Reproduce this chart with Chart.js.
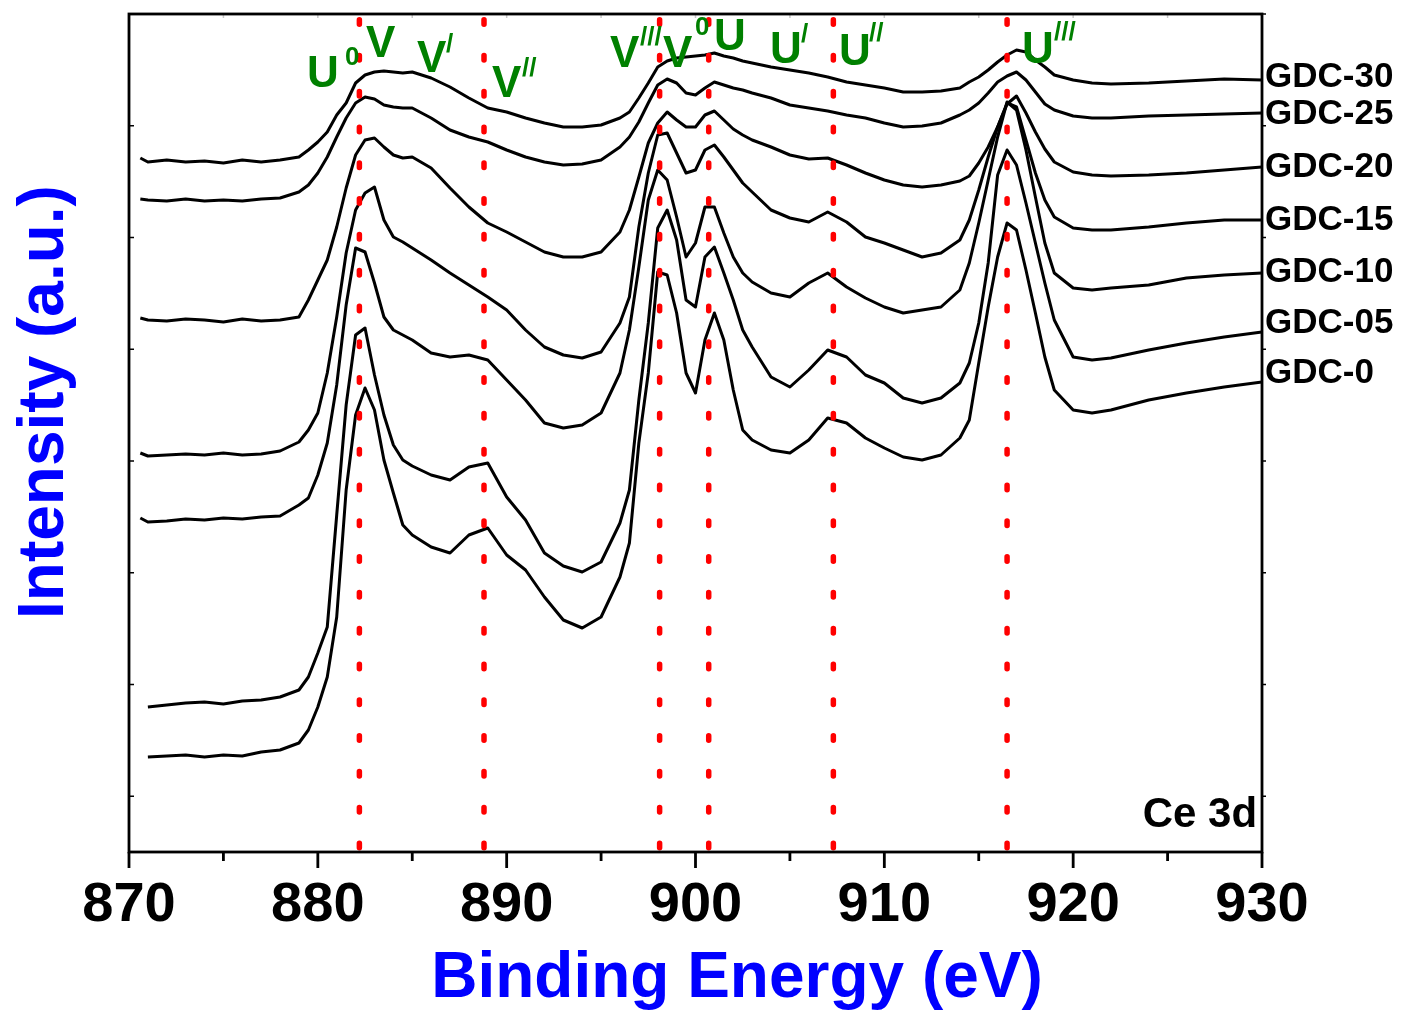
<!DOCTYPE html>
<html>
<head>
<meta charset="utf-8">
<script src="https://cdn.jsdelivr.net/npm/chart.js@4.4.0/dist/chart.umd.min.js"></script>
<style>
  html, body { margin: 0; padding: 0; background: #fff; }
  #wrap { width: 1407px; height: 1012px; }
</style>
</head>
<body>
<div id="wrap"><canvas id="chart" width="1407" height="1012"></canvas></div>
<script>
// Binding energy grid (eV), shared by all spectra
const energy = [870.6, 871, 872, 873, 874, 875, 876, 877, 878, 879, 879.5, 880, 880.5, 881, 881.5, 882, 882.5, 883, 883.5, 884, 884.5, 885,
  886, 887, 888, 889, 890, 891, 892, 893, 894, 895, 896, 896.5, 897, 897.5, 898, 898.5, 899, 899.5, 900, 900.5, 901, 901.5, 902, 902.5, 903,
  904, 905, 906, 907, 908, 909, 910, 911, 912, 913, 914, 914.5, 915, 915.5, 916, 916.5, 917, 917.5, 918, 918.5, 919, 920, 921, 922, 924, 926, 928, 930];

// Intensity (a.u., stacked with offsets as in the figure)
const gdc30 = [694, 690, 692, 690, 691, 689, 692, 690, 692, 695, 702, 710, 720, 737, 749, 769, 777, 780, 781, 780, 779, 780, 774, 765, 754, 744, 740, 734, 729, 725,
  725, 727, 734, 740, 754, 769, 785, 791, 794, 795, 796, 797, 799, 796, 794, 791, 789, 785, 782, 779, 775, 770, 767, 764, 760, 760, 761, 764, 770, 775,
  782, 790, 797, 802, 800, 792, 785, 777, 772, 769, 768, 769, 771, 773, 772];
const gdc25 = [653, 652, 651, 653, 651, 652, 651, 653, 654, 660, 667, 679, 695, 715, 734, 749, 755, 753, 747, 745, 744, 744, 734, 722, 715, 710, 702, 695, 690, 687,
  688, 692, 705, 715, 730, 749, 767, 773, 769, 759, 757, 764, 770, 767, 764, 762, 759, 754, 747, 744, 741, 737, 734, 729, 725, 726, 729, 737, 742, 749,
  759, 770, 776, 780, 772, 760, 748, 742, 736, 734, 734, 736, 737, 738, 739];
const gdc20 = [534, 532, 531, 533, 532, 530, 533, 531, 532, 535, 552, 572, 592, 625, 664, 697, 712, 714, 705, 697, 694, 695, 684, 664, 645, 629, 620, 610, 600, 595,
  595, 600, 620, 642, 675, 709, 729, 740, 732, 725, 725, 737, 741, 732, 723, 717, 712, 705, 697, 693, 694, 687, 679, 672, 667, 665, 667, 671, 676, 689,
  705, 725, 748, 756, 739, 720, 703, 690, 680, 677, 676, 677, 679, 682, 685];
const gdc15 = [399, 396, 397, 398, 397, 399, 397, 398, 401, 410, 422, 439, 479, 535, 599, 642, 659, 665, 632, 615, 610, 604, 592, 579, 567, 555, 542, 522, 505, 497,
  494, 500, 529, 555, 625, 679, 717, 719, 699, 679, 682, 702, 707, 695, 682, 669, 660, 642, 634, 630, 640, 630, 615, 609, 602, 595, 599, 612, 632, 662,
  695, 725, 749, 745, 712, 679, 652, 635, 624, 622, 622, 625, 629, 632, 632];
const gdc10 = [334, 330, 331, 333, 332, 334, 333, 335, 336, 347, 354, 377, 409, 467, 547, 604, 600, 569, 535, 522, 517, 512, 499, 495, 497, 492, 472, 452, 429, 424,
  427, 439, 479, 522, 585, 652, 682, 672, 635, 595, 609, 645, 645, 619, 595, 579, 570, 559, 555, 569, 579, 565, 554, 545, 539, 542, 545, 562, 589, 629,
  672, 715, 750, 742, 702, 655, 609, 579, 564, 562, 564, 567, 574, 577, 579];
const gdc05 = [null, 145, 147, 149, 150, 148, 151, 152, 155, 162, 175, 199, 225, 337, 447, 517, 524, 477, 437, 407, 392, 386, 377, 372, 385, 389, 355, 332, 299, 286,
  280, 290, 329, 362, 452, 529, 624, 642, 612, 552, 545, 595, 605, 579, 552, 522, 505, 475, 465, 482, 502, 495, 477, 469, 454, 449, 454, 469, 489, 529,
  589, 677, 702, 687, 649, 609, 569, 532, 495, 492, 494, 502, 509, 515, 520];
const gdc0 = [null, 95, 96, 97, 95, 97, 96, 100, 102, 109, 122, 145, 175, 235, 362, 437, 464, 442, 392, 359, 327, 317, 305, 299, 317, 324, 297, 282, 255, 232,
  224, 235, 275, 309, 409, 479, 580, 577, 539, 479, 459, 512, 539, 512, 462, 422, 412, 402, 399, 412, 434, 429, 414, 404, 395, 392, 397, 414, 432, 489,
  545, 595, 629, 622, 582, 539, 495, 462, 442, 439, 442, 452, 459, 465, 470];

const sampleNames = ['GDC-30', 'GDC-25', 'GDC-20', 'GDC-15', 'GDC-10', 'GDC-05', 'GDC-0'];
const spectra = [gdc30, gdc25, gdc20, gdc15, gdc10, gdc05, gdc0];

// Peak positions marked by the red dotted lines (eV)
const peakLines = [882.2, 888.8, 898.1, 900.7, 907.3, 916.5];

// Axis ticks
const xMin = 870, xMax = 930, xStep = 5;
const yMin = 0, yMax = 838;
const yTickValues = [55.75, 167.5, 279.25, 391, 502.75, 614.5, 726.25, 838];

const FONT = '"Liberation Sans", Arial, Helvetica, sans-serif';
const bold = size => `bold ${size}px ${FONT}`;

// peak labels: letter + superscript mark, anchored in data units
const peakLabels = [
  { t: 'U', e: 879.43, v: 765, s: '0', se: 881.44, sv: 787 },
  { t: 'V', e: 882.55, v: 795 },
  { t: 'V', e: 885.25, v: 780, s: '/', se: 886.79, sv: 800 },
  { t: 'V', e: 889.22, v: 755, s: '//', se: 890.81, sv: 776 },
  { t: 'V', e: 895.47, v: 785, s: '///', se: 897.06, sv: 807 },
  { t: 'V', e: 898.28, v: 785, s: '0', se: 899.97, sv: 817 },
  { t: 'U', e: 900.98, v: 802 },
  { t: 'U', e: 903.95, v: 789, s: '/', se: 905.59, sv: 810 },
  { t: 'U', e: 907.6, v: 787, s: '//', se: 909.19, sv: 811 },
  { t: 'U', e: 917.29, v: 789, s: '///', se: 918.99, sv: 812 }
];
const nameLevels = [765, 728, 675, 622, 570, 519, 469];

// Frame and tick marks
const framePlugin = {
  id: 'frame',
  afterDraw(chart) {
    const { ctx, chartArea: a, scales: { x, y } } = chart;
    ctx.save();
    ctx.strokeStyle = '#000';
    ctx.lineWidth = 2.8;
    ctx.lineCap = 'butt';
    x.ticks.forEach(t => {
      const px = x.getPixelForValue(t.value);
      const major = t.value % 10 === 0;
      ctx.beginPath();
      ctx.moveTo(px, a.bottom);
      ctx.lineTo(px, a.bottom + (major ? 16 : 9));
      ctx.stroke();
    });
    ctx.lineWidth = 1.5;
    y.ticks.forEach(t => {
      const py = y.getPixelForValue(t.value);
      ctx.beginPath();
      ctx.moveTo(a.left, py);
      ctx.lineTo(a.left + 5, py);
      ctx.moveTo(a.right, py);
      ctx.lineTo(a.right + 4, py);
      ctx.stroke();
    });
    ctx.strokeStyle = '#c8c8c8';
    x.ticks.forEach(t => {
      const px = x.getPixelForValue(t.value);
      ctx.beginPath();
      ctx.moveTo(px, a.top);
      ctx.lineTo(px, a.top + 4);
      ctx.stroke();
    });
    ctx.strokeStyle = '#000';
    ctx.lineWidth = 2.8;
    ctx.strokeRect(a.left, a.top, a.right - a.left, a.bottom - a.top);
    ctx.restore();
  }
};

// Peak labels, sample names and axis titles
const textPlugin = {
  id: 'texts',
  afterDraw(chart) {
    const { ctx, chartArea: a, scales: { x, y } } = chart;
    ctx.save();
    ctx.textAlign = 'left';
    ctx.textBaseline = 'alphabetic';
    ctx.fillStyle = '#008000';
    peakLabels.forEach(l => {
      ctx.font = bold(44);
      ctx.fillText(l.t, x.getPixelForValue(l.e), y.getPixelForValue(l.v));
      if (l.s) {
        ctx.font = bold(26);
        ctx.fillText(l.s, x.getPixelForValue(l.se), y.getPixelForValue(l.sv));
      }
    });

    ctx.fillStyle = '#000';
    ctx.font = bold(35);
    chart.data.datasets.filter(d => d.sample).forEach((d, i) => {
      ctx.fillText(d.label, x.getPixelForValue(930.16), y.getPixelForValue(nameLevels[i]));
    });

    ctx.font = bold(42);
    ctx.textAlign = 'right';
    ctx.fillText('Ce 3d', x.getPixelForValue(929.74), y.getPixelForValue(25));

    ctx.fillStyle = '#0000ff';
    ctx.font = bold(64);
    ctx.textAlign = 'center';
    ctx.fillText('Binding Energy (eV)', a.left + 608, a.bottom + 145);

    ctx.translate(63, a.top + 388);
    ctx.rotate(-Math.PI / 2);
    ctx.fillText('Intensity (a.u.)', 0, 0);
    ctx.restore();
  }
};

const lineSets = peakLines.map(e => ({
  data: [{ x: e, y: yMax }, { x: e, y: yMin }],
  borderColor: '#ff0000',
  borderWidth: 5.5,
  borderDash: [4.5, 31.3],
  borderDashOffset: 30,
  borderCapStyle: 'round',
  pointRadius: 0,
  order: 0
}));

const spectraSets = spectra.map((vals, i) => ({
  label: sampleNames[i],
  sample: true,
  data: energy.map((e, j) => ({ x: e, y: vals[j] })).filter(p => p.y !== null),
  borderColor: '#000',
  borderWidth: 3,
  borderJoinStyle: 'round',
  pointRadius: 0,
  tension: 0,
  fill: false,
  order: 1
}));

new Chart(document.getElementById('chart').getContext('2d'), {
  type: 'line',
  data: { datasets: [...spectraSets, ...lineSets] },
  options: {
    responsive: false,
    animation: false,
    devicePixelRatio: 1,
    layout: { padding: { left: 0, right: 145, top: 14, bottom: 0 } },
    plugins: { legend: { display: false }, tooltip: { enabled: false } },
    scales: {
      x: {
        type: 'linear',
        min: xMin,
        max: xMax,
        grid: { display: false, drawTicks: false },
        border: { display: false },
        ticks: {
          stepSize: xStep,
          autoSkip: false,
          maxRotation: 0,
          padding: 20,
          color: '#000',
          font: { family: FONT, size: 56, weight: 'bold' },
          callback: v => (v % 10 === 0 ? v : '')
        },
        afterFit: s => { s.height = 160; }
      },
      y: {
        min: yMin,
        max: yMax,
        grid: { display: false, drawTicks: false },
        border: { display: false },
        ticks: { display: false },
        afterBuildTicks: s => { s.ticks = yTickValues.map(v => ({ value: v })); },
        afterFit: s => { s.width = 129; }
      }
    }
  },
  plugins: [framePlugin, textPlugin]
});
</script>
</body>
</html>
